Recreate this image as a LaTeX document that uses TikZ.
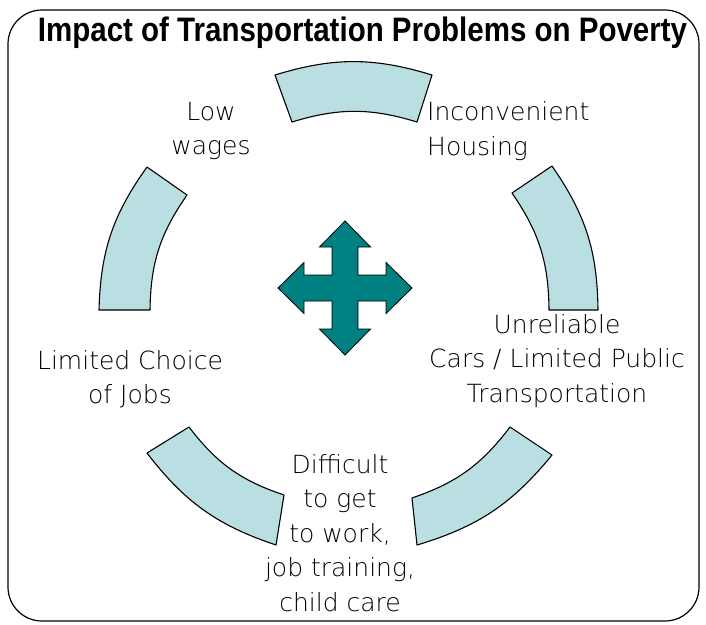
\documentclass[tikz,border=0pt]{standalone}
\usepackage{fontspec}
\setmainfont{Liberation Sans}
\newfontfamily\titlefont{Liberation Sans}
\newfontfamily\labelfont{DejaVu Sans ExtraLight}
\definecolor{segfill}{RGB}{186,223,227}
\definecolor{teal}{RGB}{0,128,128}
\tikzset{
  seg/.style={draw=black, fill=segfill, line width=1.1pt, line join=round},
  crossarrow/.style={draw=black, fill=teal, line width=0.8pt, line join=miter},
  lbl/.style={font=\labelfont\fontsize{25}{34.5}\selectfont, inner sep=0pt, align=center},
  frame/.style={draw=black, line width=1.2pt, rounded corners=34pt}
}
\begin{document}
\begin{tikzpicture}[x=1pt,y=1pt]
\useasboundingbox (0,0) rectangle (706,-624);
\fill[white] (0,0) rectangle (706,-624);
\draw[frame] (8,-10) rectangle (699,-621);
\node[font=\titlefont\bfseries\fontsize{29.5}{34}\selectfont, inner sep=0pt, yscale=1.15] (title) at (362.5,-33) {Impact of Transportation Problems on Poverty};
% ring segments
\draw[seg] (275,-75) to[bend left=17] (432,-75) -- (417,-122) to[bend right=17] (292,-122) -- cycle;
\draw[seg] (552,-166) to[bend left=17] (598,-310) -- (549,-310) to[bend right=17] (512,-193) -- cycle;
\draw[seg] (552,-455) to[bend left=17] (417,-545) -- (412,-498) to[bend right=17] (510,-427) -- cycle;
\draw[seg] (276,-545) to[bend left=17] (147,-453) -- (189,-427) to[bend right=17] (284,-495) -- cycle;
\draw[seg] (99,-310) to[bend left=17] (147,-167) -- (187,-195) to[bend right=17] (150,-310) -- cycle;
% cross arrow
\begin{scope}[shift={(345,-288)}]
\draw[crossarrow] (0,67) -- (25.5,41) -- (13,41) -- (13,13) -- (41,13) -- (41,25.5) -- (67,0)
  -- (41,-25.5) -- (41,-13) -- (13,-13) -- (13,-41) -- (25.5,-41) -- (0,-67)
  -- (-25.5,-41) -- (-13,-41) -- (-13,-13) -- (-41,-13) -- (-41,-25.5) -- (-67,0)
  -- (-41,25.5) -- (-41,13) -- (-13,13) -- (-13,41) -- (-25.5,41) -- cycle;
\end{scope}
% labels
\node[lbl] (low) at (211,-131) {Low\\wages};
\node[lbl, align=left, anchor=west] (inconv) at (427,-131) {Inconvenient\\Housing};
\node[lbl] (unrel) at (557,-361) {Unreliable\\Cars / Limited Public\\Transportation};
\node[lbl] (limited) at (130,-379) {Limited Choice\\of Jobs};
\node[lbl] (difficult) at (340,-533) {Difficult\\to get\\to work,\\job training,\\child care};
\end{tikzpicture}
\end{document}
